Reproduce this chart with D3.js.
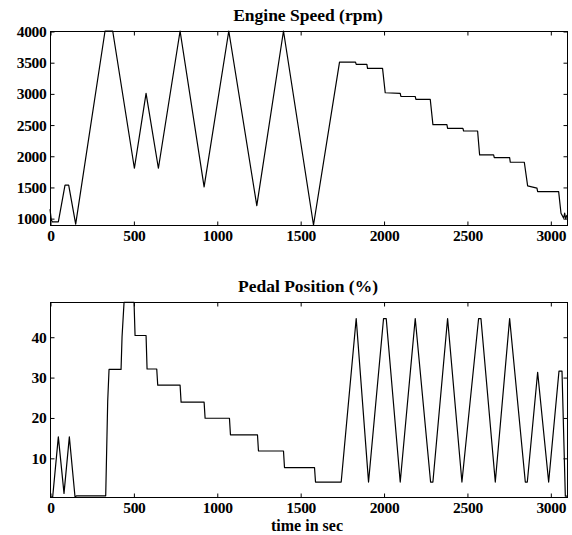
<!DOCTYPE html>
<html>
<head>
<meta charset="utf-8">
<script src="https://cdn.jsdelivr.net/npm/d3@7"></script>
<style>
	body { margin: 0; background: #fff; }
	svg text { font-family: "Liberation Serif", "Times New Roman", serif; font-weight: bold; fill: #000; }
</style>
</head>
<body>
<div id="root"></div>
<script>
// engine speed samples (time in sec, rpm)
const speedTime = [0, 8, 14, 50, 90, 112, 154, 330, 376, 506, 576, 650, 780, 924, 1072, 1240, 1400, 1580,
	1736, 1832, 1836, 1900, 1904, 1994, 2010, 2100, 2104, 2190, 2194, 2280, 2296, 2380, 2384, 2476, 2480,
	2564, 2576, 2660, 2664, 2756, 2760, 2844, 2864, 2920, 2924, 3050, 3064, 3080, 3086, 3092, 3100];
const speedRpm = [1142, 970, 940, 940, 1530, 1530, 905, 4000, 4000, 1800, 3000, 1800, 4000, 1500, 4000, 1200, 4000, 890,
	3500, 3500, 3465, 3465, 3400, 3400, 3010, 3000, 2950, 2950, 2905, 2905, 2500, 2500, 2440, 2440, 2397,
	2397, 2013, 2013, 1970, 1970, 1896, 1896, 1516, 1480, 1425, 1425, 1078, 1000, 1080, 990, 1050];

// pedal position samples (time in sec, %)
const pedalTime = [0, 16, 50, 84, 116, 150, 160, 334, 346, 354, 426, 432, 444, 504, 510, 576, 582, 640, 646,
	780, 786, 924, 930, 1076, 1082, 1244, 1250, 1400, 1406, 1586, 1592, 1746, 1836, 1910, 2000, 2016, 2100,
	2190, 2282, 2296, 2384, 2470, 2570, 2584, 2670, 2756, 2850, 2862, 2924, 2990, 3052, 3070, 3090, 3100];
const pedalPct = [0.3, 0.3, 15.2, 1.2, 15.2, 0.3, 0.6, 0.6, 24, 31.9, 31.9, 40, 48.5, 48.5, 40.3, 40.3, 32, 32, 28,
	28, 23.8, 23.8, 19.8, 19.8, 15.7, 15.7, 11.7, 11.7, 7.6, 7.6, 4, 4, 44.5, 4, 44.5, 44.5, 4,
	44.5, 4, 4, 44.5, 4, 44.5, 44.5, 4, 44.5, 4, 4, 31.2, 4, 31.5, 31.5, 0.5, 0.5];

const timeTicks = [0, 500, 1000, 1500, 2000, 2500, 3000];
const speedTicks = [1000, 1500, 2000, 2500, 3000, 3500, 4000];
const pedalTicks = [10, 20, 30, 40];

const width = 572, height = 535;
const tickLen = 4;

const svg = d3.select("#root")
	.append("svg")
		.attr("width", width)
		.attr("height", height);

const drawPanel = (opts) => {
	const x = d3.scaleLinear().domain([0, 3100]).range([50, 567]);
	const y = d3.scaleLinear().domain(opts.yDomain).range([opts.bottom, opts.top]);

	const g = svg.append("g");

	// frame
	g.append("rect")
		.attr("x", x.range()[0] + 0.5).attr("y", opts.top + 0.5)
		.attr("width", x.range()[1] - x.range()[0]).attr("height", opts.bottom - opts.top)
		.style("fill", "none").style("stroke", "#000").style("stroke-width", 1);

	// inward ticks on all four sides
	const axisStyle = sel => {
		sel.select(".domain").remove();
		sel.selectAll("line").style("stroke", "#000");
		sel.selectAll("text").style("font-size", "15.5px").style("font-family", null).style("letter-spacing", "-0.3px");
	};

	g.append("g").attr("transform", `translate(0.5, ${ opts.bottom + 0.5 })`)
		.call(d3.axisBottom(x).tickValues(timeTicks).tickSizeInner(-tickLen).tickPadding(4).tickFormat(d3.format("d")))
		.call(axisStyle);

	g.append("g").attr("transform", `translate(0.5, ${ opts.top + 0.5 })`)
		.call(d3.axisTop(x).tickValues(timeTicks).tickSizeInner(-tickLen).tickFormat(""))
		.call(axisStyle);

	g.append("g").attr("transform", `translate(${ x.range()[0] + 0.5 }, 0.5)`)
		.call(d3.axisLeft(y).tickValues(opts.yTicks).tickSizeInner(-tickLen).tickPadding(4).tickFormat(d3.format("d")))
		.call(axisStyle);

	g.append("g").attr("transform", `translate(${ x.range()[1] + 0.5 }, 0.5)`)
		.call(d3.axisRight(y).tickValues(opts.yTicks).tickSizeInner(-tickLen).tickFormat(""))
		.call(axisStyle);

	// the trace
	const line = d3.line()
		.x(d => x(d[0]))
		.y(d => y(d[1]));

	g.append("path")
		.datum(d3.zip(opts.t, opts.v))
		.attr("d", line)
		.style("fill", "none")
		.style("stroke", "#000")
		.style("stroke-width", 1.2)
		.style("stroke-linejoin", "round");

	g.append("text")
		.attr("x", 308).attr("y", opts.top - 10)
		.attr("text-anchor", "middle")
		.style("font-size", "17.5px")
		.text(opts.title);

	return x;
};

drawPanel({ top: 31, bottom: 225, yDomain: [890, 4000], yTicks: speedTicks,
	t: speedTime, v: speedRpm, title: "Engine Speed (rpm)" });

drawPanel({ top: 302, bottom: 497, yDomain: [0.3, 48.6], yTicks: pedalTicks,
	t: pedalTime, v: pedalPct, title: "Pedal Position (%)" });

svg.append("text")
	.attr("x", 307).attr("y", 531)
	.attr("text-anchor", "middle")
	.style("font-size", "16px")
	.text("time in sec");
</script>
</body>
</html>
